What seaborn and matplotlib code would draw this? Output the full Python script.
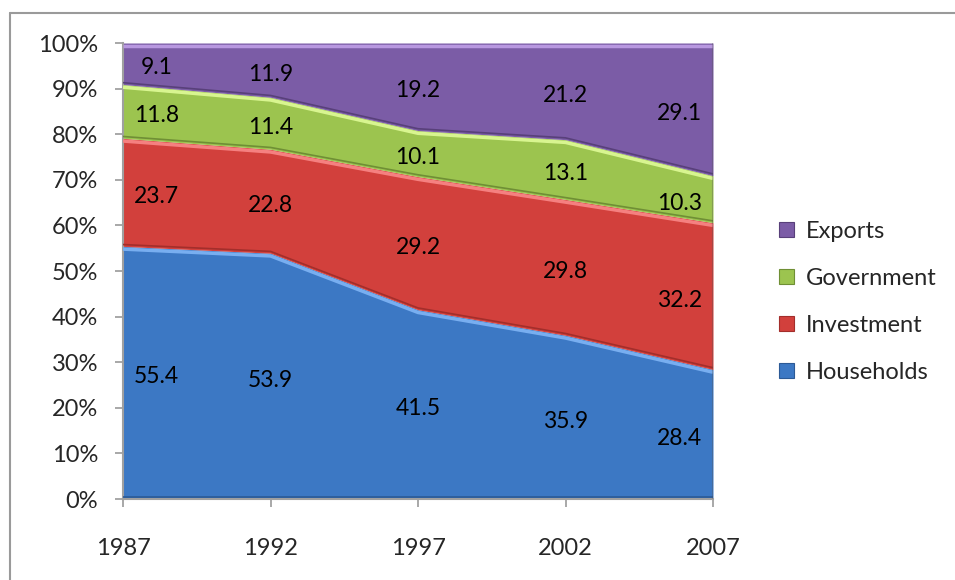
import numpy as np
import pandas as pd
import matplotlib
matplotlib.use("Agg")
import matplotlib.pyplot as plt
import seaborn as sns
from matplotlib.patches import Patch
from matplotlib.lines import Line2D

years = ["1987", "1992", "1997", "2002", "2007"]
households = [55.4, 53.9, 41.5, 35.9, 28.4]
investment = [23.7, 22.8, 29.2, 29.8, 32.2]
government = [11.8, 11.4, 10.1, 13.1, 10.3]
exports = [9.1, 11.9, 19.2, 21.2, 29.1]
series_names = ["Households", "Investment", "Government", "Exports"]
y_ticklabels = ["0%", "10%", "20%", "30%", "40%", "50%", "60%", "70%", "80%", "90%", "100%"]

colors = ["#3c78c4", "#d2403c", "#9cc44f", "#7b5ca6"]
highlights = ["#78aef0", "#f58080", "#d8f590", "#b898e0"]
shadows = ["#2c5a96", "#a32e2b", "#6f8f35", "#58407a"]

sns.set_theme(style="white")
plt.rcParams["font.family"] = ["Lato", "DejaVu Sans"]

df = pd.DataFrame({"Households": households, "Investment": investment,
                   "Government": government, "Exports": exports}, index=years)
pct = df.div(df.sum(axis=1), axis=0) * 100
cum = pct.cumsum(axis=1)

fig = plt.figure(figsize=(9.55, 5.8), dpi=100)
ax = fig.add_axes([123 / 955, 1 - 499 / 580, (713 - 123) / 955, (499 - 43) / 580])

x = np.arange(len(years))
lower = np.zeros(len(years))
for i, name in enumerate(series_names):
    upper = cum[name].values
    ax.fill_between(x, lower, upper, color=colors[i], linewidth=0, zorder=2)
    ax.plot(x, upper - 0.6, color=highlights[i], lw=2.5, zorder=3, solid_capstyle="butt")
    ax.plot(x, lower + 0.4, color=shadows[i], lw=1.2, zorder=3, solid_capstyle="butt")
    lower = upper.copy()
ax.axvline(len(years) - 1, color="#555555", lw=1.5, alpha=0.35, zorder=4)

lower = np.zeros(len(years))
for i, name in enumerate(series_names):
    upper = cum[name].values
    vals = df[name].values
    for j in range(len(years)):
        mid = (lower[j] + upper[j]) / 2
        dx = 0
        if j == 0:
            dx = 24
        elif j == len(years) - 1:
            dx = -24
        ax.annotate(f"{vals[j]:.1f}", (x[j], mid), xytext=(dx, -3), textcoords="offset points",
                    ha="center", va="center", fontsize=16.5, color="black", zorder=5)
    lower = upper.copy()

ax.set_xlim(0, len(years) - 1)
ax.set_ylim(0, 100)
ax.set_yticks(np.arange(0, 101, 10))
ax.set_yticklabels(y_ticklabels, fontsize=17)
ax.set_xticks(x)
ax.set_xticklabels(years, fontsize=17)
ax.tick_params(axis="y", direction="out", length=6, width=1.2, color="#999999", pad=12, left=True)
ax.tick_params(axis="x", direction="out", length=6, width=1.2, color="#999999", pad=22, bottom=True)
for s in ["top", "right"]:
    ax.spines[s].set_visible(False)
for s in ["left", "bottom"]:
    ax.spines[s].set_color("#a0a0a0")
    ax.spines[s].set_linewidth(1.5)
ax.grid(False)

handles = [Patch(facecolor=colors[i], edgecolor=shadows[i], linewidth=0.8) for i in range(4)][::-1]
fig.legend(handles, series_names[::-1], loc="center left", bbox_to_anchor=(770 / 955, 1 - 302 / 580),
           frameon=False, fontsize=17, handlelength=0.6, handleheight=0.6, handletextpad=0.5,
           labelspacing=1.1, borderaxespad=0)

fig.add_artist(Line2D([10 / 955, 1.0], [1 - 13 / 580, 1 - 13 / 580], transform=fig.transFigure,
                      color="#9a9a9a", lw=1.5))
fig.add_artist(Line2D([10 / 955, 10 / 955], [0, 1 - 13 / 580], transform=fig.transFigure,
                      color="#9a9a9a", lw=1.5))

fig.savefig("out.png", dpi=100, facecolor="white")
